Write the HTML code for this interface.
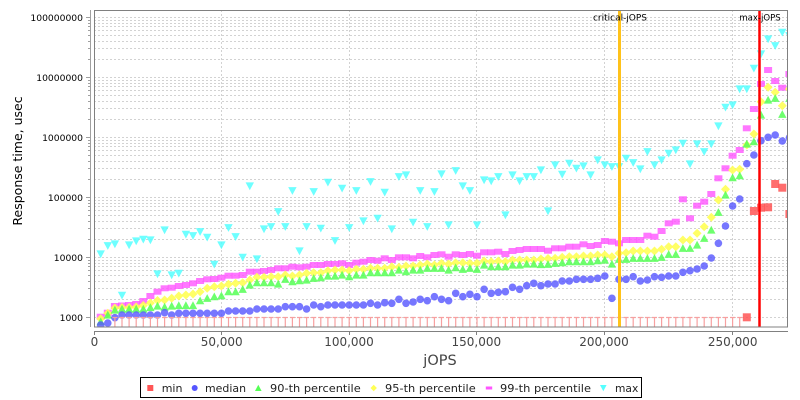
<!DOCTYPE html>
<html><head><meta charset="utf-8"><style>
html,body{margin:0;padding:0;background:#fff}
svg{display:block}
text{font-family:"DejaVu Sans","Liberation Sans",sans-serif}
</style></head><body>
<svg width="800" height="400" viewBox="0 0 800 400" xmlns="http://www.w3.org/2000/svg">
<defs>
<clipPath id="pc"><rect x="94" y="10" width="694" height="317"/></clipPath>
<rect id="mn" x="-4" y="-4" width="8" height="8" fill="#ff5555" fill-opacity="0.85"/>
<circle id="md" r="3.8" fill="#5555ff" fill-opacity="0.8"/>
<polygon id="p90" points="0,-4.2 4.2,3.6 -4.2,3.6" fill="#55ff55" fill-opacity="0.85"/>
<polygon id="p95" points="0,-4.5 4.5,0 0,4.5 -4.5,0" fill="#ffff55" fill-opacity="0.9"/>
<rect id="p99" x="-4" y="-3" width="8" height="6" fill="#ff55ff" fill-opacity="0.8"/>
<polygon id="mx" points="-4.2,-3.6 4.2,-3.6 0,4.2" fill="#55ffff" fill-opacity="0.85"/>
<path id="t" d="M-2.5,0H2.5M0,0V11" stroke="#f7a0a0" stroke-width="1.2" fill="none"/>
</defs>
<rect x="0" y="0" width="800" height="400" fill="#fff"/>
<rect x="94" y="10" width="694" height="317" fill="#fff"/>
<!-- horizontal grid -->
<path fill="none" stroke="#d2d2d2" stroke-width="1" stroke-dasharray="2,2" d="M94,17.5H788M94,77.5H788M94,137.5H788M94,197.5H788M94,257.5H788M94,317.5H788
M94,299.5H788M94,288.5H788M94,281.5H788M94,275.5H788M94,270.5H788M94,266.5H788M94,263.5H788M94,260.5H788
M94,239.5H788M94,228.5H788M94,221.5H788M94,215.5H788M94,210.5H788M94,206.5H788M94,203.5H788M94,200.5H788
M94,179.5H788M94,168.5H788M94,161.5H788M94,155.5H788M94,150.5H788M94,146.5H788M94,143.5H788M94,140.5H788
M94,119.5H788M94,108.5H788M94,101.5H788M94,95.5H788M94,90.5H788M94,86.5H788M94,83.5H788M94,80.5H788
M94,59.5H788M94,48.5H788M94,41.5H788M94,35.5H788M94,30.5H788M94,26.5H788M94,23.5H788M94,20.5H788"/>
<!-- vertical grid -->
<path fill="none" stroke="#d2d2d2" stroke-width="1" stroke-dasharray="2,2" d="M221.5,10V327M349.5,10V327M476.5,10V327M604.5,10V327M732.5,10V327"/>
<g clip-path="url(#pc)">
<!-- max -->
<use href="#mx" x="100.7" y="254"/><use href="#mx" x="107.8" y="245.7"/><use href="#mx" x="114.9" y="244"/><use href="#mx" x="122" y="295.3"/><use href="#mx" x="129.1" y="245"/><use href="#mx" x="136.2" y="241"/><use href="#mx" x="143.3" y="239.3"/><use href="#mx" x="150.4" y="240"/><use href="#mx" x="157.5" y="274"/><use href="#mx" x="164.6" y="230"/><use href="#mx" x="171.7" y="275"/><use href="#mx" x="178.8" y="273.3"/><use href="#mx" x="185.9" y="234.3"/><use href="#mx" x="193" y="235.7"/><use href="#mx" x="200.1" y="231.7"/><use href="#mx" x="207.2" y="237.3"/><use href="#mx" x="214.3" y="264.3"/><use href="#mx" x="221.4" y="245"/><use href="#mx" x="228.5" y="227.7"/><use href="#mx" x="235.6" y="236.7"/><use href="#mx" x="242.7" y="257.3"/><use href="#mx" x="249.8" y="186"/><use href="#mx" x="256.9" y="259"/><use href="#mx" x="264" y="229"/><use href="#mx" x="271.1" y="226.7"/><use href="#mx" x="278.2" y="211.7"/><use href="#mx" x="285.3" y="226.7"/><use href="#mx" x="292.4" y="190.7"/><use href="#mx" x="299.5" y="251"/><use href="#mx" x="306.6" y="226.7"/><use href="#mx" x="313.7" y="191.7"/><use href="#mx" x="320.8" y="228.3"/><use href="#mx" x="327.9" y="182.3"/><use href="#mx" x="335" y="240.7"/><use href="#mx" x="342.1" y="188.3"/><use href="#mx" x="349.2" y="227.7"/><use href="#mx" x="356.3" y="190.7"/><use href="#mx" x="363.4" y="221"/><use href="#mx" x="370.5" y="181.7"/><use href="#mx" x="377.6" y="218.3"/><use href="#mx" x="384.7" y="192.3"/><use href="#mx" x="391.8" y="229"/><use href="#mx" x="398.9" y="176.7"/><use href="#mx" x="406" y="175"/><use href="#mx" x="413.1" y="222.3"/><use href="#mx" x="420.2" y="190.7"/><use href="#mx" x="427.3" y="226.7"/><use href="#mx" x="434.4" y="191.7"/><use href="#mx" x="441.5" y="174"/><use href="#mx" x="448.6" y="225"/><use href="#mx" x="455.7" y="170.7"/><use href="#mx" x="462.8" y="186"/><use href="#mx" x="469.9" y="190.7"/><use href="#mx" x="477" y="225"/><use href="#mx" x="484.1" y="180"/><use href="#mx" x="491.2" y="181"/><use href="#mx" x="498.3" y="176.7"/><use href="#mx" x="505.4" y="215"/><use href="#mx" x="512.5" y="175"/><use href="#mx" x="519.6" y="181"/><use href="#mx" x="526.7" y="176.7"/><use href="#mx" x="533.8" y="176.7"/><use href="#mx" x="540.9" y="170"/><use href="#mx" x="548" y="211"/><use href="#mx" x="555.1" y="165"/><use href="#mx" x="562.2" y="174.3"/><use href="#mx" x="569.3" y="163.3"/><use href="#mx" x="576.4" y="168.3"/><use href="#mx" x="583.5" y="166"/><use href="#mx" x="590.6" y="175"/><use href="#mx" x="597.7" y="160"/><use href="#mx" x="604.8" y="165"/><use href="#mx" x="611.9" y="166.7"/><use href="#mx" x="619" y="166.7"/><use href="#mx" x="626.1" y="158.3"/><use href="#mx" x="633.2" y="162.7"/><use href="#mx" x="640.3" y="169"/><use href="#mx" x="647.4" y="151.7"/><use href="#mx" x="654.5" y="165"/><use href="#mx" x="661.6" y="160"/><use href="#mx" x="668.7" y="153.3"/><use href="#mx" x="675.8" y="150"/><use href="#mx" x="682.9" y="143.3"/><use href="#mx" x="690" y="164"/><use href="#mx" x="697.1" y="144"/><use href="#mx" x="704.2" y="151.7"/><use href="#mx" x="711.3" y="144"/><use href="#mx" x="718.4" y="126"/><use href="#mx" x="725.5" y="107.3"/><use href="#mx" x="732.6" y="105"/><use href="#mx" x="739.7" y="89"/><use href="#mx" x="746.8" y="89"/><use href="#mx" x="753.9" y="68.3"/><use href="#mx" x="761" y="54"/><use href="#mx" x="768.1" y="39"/><use href="#mx" x="775.2" y="45.7"/><use href="#mx" x="782.3" y="32.3"/><use href="#mx" x="789.4" y="35.7"/>
<!-- 99th -->
<use href="#p99" x="100.7" y="316.7"/><use href="#p99" x="107.8" y="312.7"/><use href="#p99" x="114.9" y="306"/><use href="#p99" x="122" y="305.5"/><use href="#p99" x="129.1" y="305"/><use href="#p99" x="136.2" y="304"/><use href="#p99" x="143.3" y="301"/><use href="#p99" x="150.4" y="296"/><use href="#p99" x="157.5" y="291.7"/><use href="#p99" x="164.6" y="288.3"/><use href="#p99" x="171.7" y="287.7"/><use href="#p99" x="178.8" y="286"/><use href="#p99" x="185.9" y="285"/><use href="#p99" x="193" y="283.3"/><use href="#p99" x="200.1" y="281"/><use href="#p99" x="207.2" y="279.3"/><use href="#p99" x="214.3" y="279"/><use href="#p99" x="221.4" y="277.7"/><use href="#p99" x="228.5" y="275.7"/><use href="#p99" x="235.6" y="275.7"/><use href="#p99" x="242.7" y="275"/><use href="#p99" x="249.8" y="271.7"/><use href="#p99" x="256.9" y="271.7"/><use href="#p99" x="264" y="271"/><use href="#p99" x="271.1" y="270"/><use href="#p99" x="278.2" y="268.3"/><use href="#p99" x="285.3" y="268.3"/><use href="#p99" x="292.4" y="266.7"/><use href="#p99" x="299.5" y="267.3"/><use href="#p99" x="306.6" y="266.7"/><use href="#p99" x="313.7" y="265"/><use href="#p99" x="320.8" y="265"/><use href="#p99" x="327.9" y="264"/><use href="#p99" x="335" y="264"/><use href="#p99" x="342.1" y="263.3"/><use href="#p99" x="349.2" y="265"/><use href="#p99" x="356.3" y="262.7"/><use href="#p99" x="363.4" y="261.7"/><use href="#p99" x="370.5" y="260"/><use href="#p99" x="377.6" y="260.7"/><use href="#p99" x="384.7" y="258.3"/><use href="#p99" x="391.8" y="260"/><use href="#p99" x="398.9" y="257.3"/><use href="#p99" x="406" y="257.3"/><use href="#p99" x="413.1" y="258.3"/><use href="#p99" x="420.2" y="256"/><use href="#p99" x="427.3" y="257.3"/><use href="#p99" x="434.4" y="255"/><use href="#p99" x="441.5" y="254.3"/><use href="#p99" x="448.6" y="256.7"/><use href="#p99" x="455.7" y="254.3"/><use href="#p99" x="462.8" y="255"/><use href="#p99" x="469.9" y="254"/><use href="#p99" x="477" y="255.7"/><use href="#p99" x="484.1" y="252.3"/><use href="#p99" x="491.2" y="252.3"/><use href="#p99" x="498.3" y="251.7"/><use href="#p99" x="505.4" y="254"/><use href="#p99" x="512.5" y="251"/><use href="#p99" x="519.6" y="250"/><use href="#p99" x="526.7" y="249"/><use href="#p99" x="533.8" y="249"/><use href="#p99" x="540.9" y="249"/><use href="#p99" x="548" y="250.7"/><use href="#p99" x="555.1" y="248.3"/><use href="#p99" x="562.2" y="248.3"/><use href="#p99" x="569.3" y="246.7"/><use href="#p99" x="576.4" y="246.7"/><use href="#p99" x="583.5" y="244.3"/><use href="#p99" x="590.6" y="246"/><use href="#p99" x="597.7" y="245"/><use href="#p99" x="604.8" y="241"/><use href="#p99" x="611.9" y="241.7"/><use href="#p99" x="619" y="243.3"/><use href="#p99" x="626.1" y="240"/><use href="#p99" x="633.2" y="240"/><use href="#p99" x="640.3" y="240"/><use href="#p99" x="647.4" y="235.7"/><use href="#p99" x="654.5" y="236.7"/><use href="#p99" x="661.6" y="231"/><use href="#p99" x="668.7" y="223.3"/><use href="#p99" x="675.8" y="221.7"/><use href="#p99" x="682.9" y="199.3"/><use href="#p99" x="690" y="218.3"/><use href="#p99" x="697.1" y="205.7"/><use href="#p99" x="704.2" y="201.7"/><use href="#p99" x="711.3" y="194"/><use href="#p99" x="718.4" y="178.3"/><use href="#p99" x="725.5" y="168.3"/><use href="#p99" x="732.6" y="155.7"/><use href="#p99" x="739.7" y="150"/><use href="#p99" x="746.8" y="128.3"/><use href="#p99" x="753.9" y="109"/><use href="#p99" x="761" y="84"/><use href="#p99" x="768.1" y="70"/><use href="#p99" x="775.2" y="81"/><use href="#p99" x="782.3" y="87.7"/><use href="#p99" x="789.4" y="74"/>
<!-- 95th -->
<use href="#p95" x="100.7" y="318.7"/><use href="#p95" x="107.8" y="313.3"/><use href="#p95" x="114.9" y="308"/><use href="#p95" x="122" y="307.5"/><use href="#p95" x="129.1" y="307.5"/><use href="#p95" x="136.2" y="307"/><use href="#p95" x="143.3" y="305.5"/><use href="#p95" x="150.4" y="303"/><use href="#p95" x="157.5" y="300.5"/><use href="#p95" x="164.6" y="300"/><use href="#p95" x="171.7" y="298.3"/><use href="#p95" x="178.8" y="296"/><use href="#p95" x="185.9" y="295"/><use href="#p95" x="193" y="294"/><use href="#p95" x="200.1" y="291.7"/><use href="#p95" x="207.2" y="288.3"/><use href="#p95" x="214.3" y="286.7"/><use href="#p95" x="221.4" y="286"/><use href="#p95" x="228.5" y="284.3"/><use href="#p95" x="235.6" y="283.3"/><use href="#p95" x="242.7" y="282.7"/><use href="#p95" x="249.8" y="280"/><use href="#p95" x="256.9" y="277.3"/><use href="#p95" x="264" y="277.3"/><use href="#p95" x="271.1" y="276.7"/><use href="#p95" x="278.2" y="276.7"/><use href="#p95" x="285.3" y="275"/><use href="#p95" x="292.4" y="276"/><use href="#p95" x="299.5" y="275"/><use href="#p95" x="306.6" y="273.3"/><use href="#p95" x="313.7" y="272.7"/><use href="#p95" x="320.8" y="272.7"/><use href="#p95" x="327.9" y="270.7"/><use href="#p95" x="335" y="270"/><use href="#p95" x="342.1" y="270"/><use href="#p95" x="349.2" y="270.7"/><use href="#p95" x="356.3" y="269.3"/><use href="#p95" x="363.4" y="269.3"/><use href="#p95" x="370.5" y="268.3"/><use href="#p95" x="377.6" y="268.3"/><use href="#p95" x="384.7" y="268.3"/><use href="#p95" x="391.8" y="266.7"/><use href="#p95" x="398.9" y="267.3"/><use href="#p95" x="406" y="266"/><use href="#p95" x="413.1" y="266"/><use href="#p95" x="420.2" y="265"/><use href="#p95" x="427.3" y="264"/><use href="#p95" x="434.4" y="265"/><use href="#p95" x="441.5" y="263.3"/><use href="#p95" x="448.6" y="264"/><use href="#p95" x="455.7" y="262.7"/><use href="#p95" x="462.8" y="262.7"/><use href="#p95" x="469.9" y="263.3"/><use href="#p95" x="477" y="263.3"/><use href="#p95" x="484.1" y="261"/><use href="#p95" x="491.2" y="261.7"/><use href="#p95" x="498.3" y="261"/><use href="#p95" x="505.4" y="261.7"/><use href="#p95" x="512.5" y="260"/><use href="#p95" x="519.6" y="260"/><use href="#p95" x="526.7" y="260"/><use href="#p95" x="533.8" y="260"/><use href="#p95" x="540.9" y="259"/><use href="#p95" x="548" y="258.5"/><use href="#p95" x="555.1" y="258.3"/><use href="#p95" x="562.2" y="257.3"/><use href="#p95" x="569.3" y="256.7"/><use href="#p95" x="576.4" y="256.7"/><use href="#p95" x="583.5" y="256"/><use href="#p95" x="590.6" y="256"/><use href="#p95" x="597.7" y="255"/><use href="#p95" x="604.8" y="255"/><use href="#p95" x="611.9" y="256.7"/><use href="#p95" x="619" y="253.3"/><use href="#p95" x="626.1" y="252.7"/><use href="#p95" x="633.2" y="251"/><use href="#p95" x="640.3" y="251"/><use href="#p95" x="647.4" y="251"/><use href="#p95" x="654.5" y="251"/><use href="#p95" x="661.6" y="249.3"/><use href="#p95" x="668.7" y="246.7"/><use href="#p95" x="675.8" y="246.7"/><use href="#p95" x="682.9" y="240"/><use href="#p95" x="690" y="240"/><use href="#p95" x="697.1" y="233.3"/><use href="#p95" x="704.2" y="226.7"/><use href="#p95" x="711.3" y="217.3"/><use href="#p95" x="718.4" y="200"/><use href="#p95" x="725.5" y="189.3"/><use href="#p95" x="732.6" y="170"/><use href="#p95" x="739.7" y="169.3"/><use href="#p95" x="746.8" y="145"/><use href="#p95" x="753.9" y="134"/><use href="#p95" x="761" y="101.7"/><use href="#p95" x="768.1" y="87.3"/><use href="#p95" x="775.2" y="92.3"/><use href="#p95" x="782.3" y="105.7"/><use href="#p95" x="789.4" y="89"/>
<!-- 90th -->
<use href="#p90" x="100.7" y="321.7"/><use href="#p90" x="107.8" y="315"/><use href="#p90" x="114.9" y="310"/><use href="#p90" x="122" y="309"/><use href="#p90" x="129.1" y="309"/><use href="#p90" x="136.2" y="309"/><use href="#p90" x="143.3" y="309"/><use href="#p90" x="150.4" y="307.5"/><use href="#p90" x="157.5" y="306"/><use href="#p90" x="164.6" y="307"/><use href="#p90" x="171.7" y="306"/><use href="#p90" x="178.8" y="305.5"/><use href="#p90" x="185.9" y="305.5"/><use href="#p90" x="193" y="305.5"/><use href="#p90" x="200.1" y="300.7"/><use href="#p90" x="207.2" y="298.3"/><use href="#p90" x="214.3" y="296.7"/><use href="#p90" x="221.4" y="295.7"/><use href="#p90" x="228.5" y="291.7"/><use href="#p90" x="235.6" y="291.7"/><use href="#p90" x="242.7" y="289.3"/><use href="#p90" x="249.8" y="285"/><use href="#p90" x="256.9" y="282.7"/><use href="#p90" x="264" y="282.7"/><use href="#p90" x="271.1" y="282.7"/><use href="#p90" x="278.2" y="284"/><use href="#p90" x="285.3" y="279.3"/><use href="#p90" x="292.4" y="281.7"/><use href="#p90" x="299.5" y="280.7"/><use href="#p90" x="306.6" y="280"/><use href="#p90" x="313.7" y="278.3"/><use href="#p90" x="320.8" y="277.7"/><use href="#p90" x="327.9" y="276"/><use href="#p90" x="335" y="276"/><use href="#p90" x="342.1" y="275"/><use href="#p90" x="349.2" y="276.7"/><use href="#p90" x="356.3" y="275"/><use href="#p90" x="363.4" y="275"/><use href="#p90" x="370.5" y="272.7"/><use href="#p90" x="377.6" y="272.7"/><use href="#p90" x="384.7" y="272.7"/><use href="#p90" x="391.8" y="272.7"/><use href="#p90" x="398.9" y="270"/><use href="#p90" x="406" y="271.7"/><use href="#p90" x="413.1" y="270"/><use href="#p90" x="420.2" y="270"/><use href="#p90" x="427.3" y="268.3"/><use href="#p90" x="434.4" y="268.3"/><use href="#p90" x="441.5" y="268.3"/><use href="#p90" x="448.6" y="270"/><use href="#p90" x="455.7" y="267.7"/><use href="#p90" x="462.8" y="269.3"/><use href="#p90" x="469.9" y="268.3"/><use href="#p90" x="477" y="269.3"/><use href="#p90" x="484.1" y="265"/><use href="#p90" x="491.2" y="266.7"/><use href="#p90" x="498.3" y="266.7"/><use href="#p90" x="505.4" y="266.7"/><use href="#p90" x="512.5" y="265"/><use href="#p90" x="519.6" y="265"/><use href="#p90" x="526.7" y="264"/><use href="#p90" x="533.8" y="264"/><use href="#p90" x="540.9" y="264.5"/><use href="#p90" x="548" y="264.3"/><use href="#p90" x="555.1" y="263.3"/><use href="#p90" x="562.2" y="262.7"/><use href="#p90" x="569.3" y="261.7"/><use href="#p90" x="576.4" y="261.7"/><use href="#p90" x="583.5" y="261.7"/><use href="#p90" x="590.6" y="261.7"/><use href="#p90" x="597.7" y="260.7"/><use href="#p90" x="604.8" y="260"/><use href="#p90" x="611.9" y="264"/><use href="#p90" x="619" y="259.3"/><use href="#p90" x="626.1" y="259.3"/><use href="#p90" x="633.2" y="258.3"/><use href="#p90" x="640.3" y="258.3"/><use href="#p90" x="647.4" y="258.3"/><use href="#p90" x="654.5" y="258.3"/><use href="#p90" x="661.6" y="257.3"/><use href="#p90" x="668.7" y="254.3"/><use href="#p90" x="675.8" y="254.3"/><use href="#p90" x="682.9" y="248.3"/><use href="#p90" x="690" y="248.3"/><use href="#p90" x="697.1" y="245"/><use href="#p90" x="704.2" y="238.3"/><use href="#p90" x="711.3" y="230"/><use href="#p90" x="718.4" y="212.3"/><use href="#p90" x="725.5" y="195"/><use href="#p90" x="732.6" y="177.7"/><use href="#p90" x="739.7" y="175.7"/><use href="#p90" x="746.8" y="144"/><use href="#p90" x="753.9" y="141.7"/><use href="#p90" x="761" y="115"/><use href="#p90" x="768.1" y="100"/><use href="#p90" x="775.2" y="98.3"/><use href="#p90" x="782.3" y="114.3"/><use href="#p90" x="789.4" y="98.3"/>
<!-- median -->
<use href="#md" x="100.7" y="325"/><use href="#md" x="107.8" y="323"/><use href="#md" x="114.9" y="317.7"/><use href="#md" x="122" y="315"/><use href="#md" x="129.1" y="315"/><use href="#md" x="136.2" y="315"/><use href="#md" x="143.3" y="315"/><use href="#md" x="150.4" y="315"/><use href="#md" x="157.5" y="315"/><use href="#md" x="164.6" y="312.7"/><use href="#md" x="171.7" y="315"/><use href="#md" x="178.8" y="313.3"/><use href="#md" x="185.9" y="313.3"/><use href="#md" x="193" y="313.3"/><use href="#md" x="200.1" y="313.3"/><use href="#md" x="207.2" y="313.3"/><use href="#md" x="214.3" y="313.3"/><use href="#md" x="221.4" y="313.3"/><use href="#md" x="228.5" y="311"/><use href="#md" x="235.6" y="311"/><use href="#md" x="242.7" y="311"/><use href="#md" x="249.8" y="311"/><use href="#md" x="256.9" y="309"/><use href="#md" x="264" y="309"/><use href="#md" x="271.1" y="309"/><use href="#md" x="278.2" y="309"/><use href="#md" x="285.3" y="306.7"/><use href="#md" x="292.4" y="306.7"/><use href="#md" x="299.5" y="306.7"/><use href="#md" x="306.6" y="309"/><use href="#md" x="313.7" y="305"/><use href="#md" x="320.8" y="306.7"/><use href="#md" x="327.9" y="305"/><use href="#md" x="335" y="305"/><use href="#md" x="342.1" y="305"/><use href="#md" x="349.2" y="305"/><use href="#md" x="356.3" y="305"/><use href="#md" x="363.4" y="305"/><use href="#md" x="370.5" y="303.3"/><use href="#md" x="377.6" y="305"/><use href="#md" x="384.7" y="302.7"/><use href="#md" x="391.8" y="303.3"/><use href="#md" x="398.9" y="299.3"/><use href="#md" x="406" y="303.3"/><use href="#md" x="413.1" y="302"/><use href="#md" x="420.2" y="299.3"/><use href="#md" x="427.3" y="300.7"/><use href="#md" x="434.4" y="296.7"/><use href="#md" x="441.5" y="299.3"/><use href="#md" x="448.6" y="300.7"/><use href="#md" x="455.7" y="293.3"/><use href="#md" x="462.8" y="296.7"/><use href="#md" x="469.9" y="294.3"/><use href="#md" x="477" y="296.7"/><use href="#md" x="484.1" y="289.3"/><use href="#md" x="491.2" y="293.3"/><use href="#md" x="498.3" y="292.3"/><use href="#md" x="505.4" y="291.7"/><use href="#md" x="512.5" y="287.3"/><use href="#md" x="519.6" y="289.3"/><use href="#md" x="526.7" y="285.7"/><use href="#md" x="533.8" y="283.3"/><use href="#md" x="540.9" y="285.7"/><use href="#md" x="548" y="284"/><use href="#md" x="555.1" y="284"/><use href="#md" x="562.2" y="281"/><use href="#md" x="569.3" y="281"/><use href="#md" x="576.4" y="279.3"/><use href="#md" x="583.5" y="279.3"/><use href="#md" x="590.6" y="279.3"/><use href="#md" x="597.7" y="278.3"/><use href="#md" x="604.8" y="276"/><use href="#md" x="611.9" y="298.3"/><use href="#md" x="619" y="279.3"/><use href="#md" x="626.1" y="279.3"/><use href="#md" x="633.2" y="276.7"/><use href="#md" x="640.3" y="281"/><use href="#md" x="647.4" y="280"/><use href="#md" x="654.5" y="276.7"/><use href="#md" x="661.6" y="277.3"/><use href="#md" x="668.7" y="276"/><use href="#md" x="675.8" y="276"/><use href="#md" x="682.9" y="272.3"/><use href="#md" x="690" y="270.7"/><use href="#md" x="697.1" y="269"/><use href="#md" x="704.2" y="266"/><use href="#md" x="711.3" y="258"/><use href="#md" x="718.4" y="243.3"/><use href="#md" x="725.5" y="226"/><use href="#md" x="732.6" y="206"/><use href="#md" x="739.7" y="199"/><use href="#md" x="746.8" y="163.7"/><use href="#md" x="753.9" y="155"/><use href="#md" x="761" y="140.7"/><use href="#md" x="768.1" y="137.3"/><use href="#md" x="775.2" y="135"/><use href="#md" x="782.3" y="141"/><use href="#md" x="789.4" y="137.7"/>
<!-- min (T marks) -->
<use href="#t" x="114.9" y="317.5"/><use href="#t" x="122" y="317.5"/><use href="#t" x="129.1" y="317.5"/><use href="#t" x="136.2" y="317.5"/><use href="#t" x="143.3" y="317.5"/><use href="#t" x="150.4" y="317.5"/><use href="#t" x="157.5" y="317.5"/><use href="#t" x="164.6" y="317.5"/><use href="#t" x="171.7" y="317.5"/><use href="#t" x="178.8" y="317.5"/><use href="#t" x="185.9" y="317.5"/><use href="#t" x="193" y="317.5"/><use href="#t" x="200.1" y="317.5"/><use href="#t" x="207.2" y="317.5"/><use href="#t" x="214.3" y="317.5"/><use href="#t" x="221.4" y="317.5"/><use href="#t" x="228.5" y="317.5"/><use href="#t" x="235.6" y="317.5"/><use href="#t" x="242.7" y="317.5"/><use href="#t" x="249.8" y="317.5"/><use href="#t" x="256.9" y="317.5"/><use href="#t" x="264" y="317.5"/><use href="#t" x="271.1" y="317.5"/><use href="#t" x="278.2" y="317.5"/><use href="#t" x="285.3" y="317.5"/><use href="#t" x="292.4" y="317.5"/><use href="#t" x="299.5" y="317.5"/><use href="#t" x="306.6" y="317.5"/><use href="#t" x="313.7" y="317.5"/><use href="#t" x="320.8" y="317.5"/><use href="#t" x="327.9" y="317.5"/><use href="#t" x="335" y="317.5"/><use href="#t" x="342.1" y="317.5"/><use href="#t" x="349.2" y="317.5"/><use href="#t" x="356.3" y="317.5"/><use href="#t" x="363.4" y="317.5"/><use href="#t" x="370.5" y="317.5"/><use href="#t" x="377.6" y="317.5"/><use href="#t" x="384.7" y="317.5"/><use href="#t" x="391.8" y="317.5"/><use href="#t" x="398.9" y="317.5"/><use href="#t" x="406" y="317.5"/><use href="#t" x="413.1" y="317.5"/><use href="#t" x="420.2" y="317.5"/><use href="#t" x="427.3" y="317.5"/><use href="#t" x="434.4" y="317.5"/><use href="#t" x="441.5" y="317.5"/><use href="#t" x="448.6" y="317.5"/><use href="#t" x="455.7" y="317.5"/><use href="#t" x="462.8" y="317.5"/><use href="#t" x="469.9" y="317.5"/><use href="#t" x="477" y="317.5"/><use href="#t" x="484.1" y="317.5"/><use href="#t" x="491.2" y="317.5"/><use href="#t" x="498.3" y="317.5"/><use href="#t" x="505.4" y="317.5"/><use href="#t" x="512.5" y="317.5"/><use href="#t" x="519.6" y="317.5"/><use href="#t" x="526.7" y="317.5"/><use href="#t" x="533.8" y="317.5"/><use href="#t" x="540.9" y="317.5"/><use href="#t" x="548" y="317.5"/><use href="#t" x="555.1" y="317.5"/><use href="#t" x="562.2" y="317.5"/><use href="#t" x="569.3" y="317.5"/><use href="#t" x="576.4" y="317.5"/><use href="#t" x="583.5" y="317.5"/><use href="#t" x="590.6" y="317.5"/><use href="#t" x="597.7" y="317.5"/><use href="#t" x="604.8" y="317.5"/><use href="#t" x="611.9" y="317.5"/><use href="#t" x="619" y="317.5"/><use href="#t" x="626.1" y="317.5"/><use href="#t" x="633.2" y="317.5"/><use href="#t" x="640.3" y="317.5"/><use href="#t" x="647.4" y="317.5"/><use href="#t" x="654.5" y="317.5"/><use href="#t" x="661.6" y="317.5"/><use href="#t" x="668.7" y="317.5"/><use href="#t" x="675.8" y="317.5"/><use href="#t" x="682.9" y="317.5"/><use href="#t" x="690" y="317.5"/><use href="#t" x="697.1" y="317.5"/><use href="#t" x="704.2" y="317.5"/><use href="#t" x="711.3" y="317.5"/><use href="#t" x="718.4" y="317.5"/><use href="#t" x="725.5" y="317.5"/><use href="#t" x="732.6" y="317.5"/><use href="#t" x="739.7" y="317.5"/>
<!-- min squares -->
<use href="#mn" x="746.8" y="317.3"/><use href="#mn" x="753.9" y="211"/><use href="#mn" x="761" y="207.7"/><use href="#mn" x="768.1" y="207.3"/><use href="#mn" x="775.2" y="184"/><use href="#mn" x="782.3" y="187.7"/><use href="#mn" x="789.4" y="214"/>
<!-- markers -->
<line x1="619.5" y1="10" x2="619.5" y2="327" stroke="#ffc21a" stroke-width="3"/>
<line x1="759.5" y1="10" x2="759.5" y2="327" stroke="#ff0000" stroke-width="2.5"/>
</g>
<text x="620" y="20.5" font-size="9" text-anchor="middle" textLength="54" lengthAdjust="spacingAndGlyphs" fill="#000">critical-jOPS</text>
<text x="760" y="20.5" font-size="9" text-anchor="middle" textLength="41.5" lengthAdjust="spacingAndGlyphs" fill="#000">max-jOPS</text>
<!-- plot outline -->
<rect x="94.5" y="10.5" width="693" height="316.5" fill="none" stroke="#808080" stroke-width="1"/>
<!-- y axis -->
<line x1="90.5" y1="10" x2="90.5" y2="327" stroke="#a0a0a0" stroke-width="1"/>
<path fill="none" stroke="#a0a0a0" stroke-width="1" d="M86,17.5H90M86,77.5H90M86,137.5H90M86,197.5H90M86,257.5H90M86,317.5H90
M88,299.5H90M88,288.5H90M88,281.5H90M88,275.5H90M88,270.5H90M88,266.5H90M88,263.5H90M88,260.5H90
M88,239.5H90M88,228.5H90M88,221.5H90M88,215.5H90M88,210.5H90M88,206.5H90M88,203.5H90M88,200.5H90
M88,179.5H90M88,168.5H90M88,161.5H90M88,155.5H90M88,150.5H90M88,146.5H90M88,143.5H90M88,140.5H90
M88,119.5H90M88,108.5H90M88,101.5H90M88,95.5H90M88,90.5H90M88,86.5H90M88,83.5H90M88,80.5H90
M88,59.5H90M88,48.5H90M88,41.5H90M88,35.5H90M88,30.5H90M88,26.5H90M88,23.5H90M88,20.5H90"/>
<g font-size="9.2" fill="#000" text-anchor="end">
<text x="83" y="20.8">100000000</text>
<text x="83" y="80.8">10000000</text>
<text x="83" y="140.8">1000000</text>
<text x="83" y="200.8">100000</text>
<text x="83" y="260.8">10000</text>
<text x="83" y="320.8">1000</text>
</g>
<text transform="translate(22,161) rotate(-90)" font-size="12.5" text-anchor="middle" fill="#000">Response time, usec</text>
<!-- x axis -->
<line x1="94" y1="331.5" x2="788" y2="331.5" stroke="#808080" stroke-width="1"/>
<path fill="none" stroke="#808080" stroke-width="1" d="M94.5,331V335M221.5,331V335M349.5,331V335M476.5,331V335M604.5,331V335M732.5,331V335"/>
<g font-size="12" fill="#444" text-anchor="middle">
<text x="94.5" y="346">0</text>
<text x="221.7" y="346">50,000</text>
<text x="349" y="346">100,000</text>
<text x="476.3" y="346">150,000</text>
<text x="604" y="346">200,000</text>
<text x="732.7" y="346">250,000</text>
</g>
<text x="440" y="365" font-size="14.5" text-anchor="middle" fill="#444">jOPS</text>
<!-- legend -->
<rect x="140.5" y="377.5" width="501" height="20" fill="#fff" stroke="#000" stroke-width="1"/>
<rect x="147.3" y="385" width="6" height="6" fill="#ff5555"/>
<circle cx="194.7" cy="388" r="3" fill="#5555ff"/>
<polygon points="258.3,384.7 261.6,391 255,391" fill="#55ff55"/>
<polygon points="373.7,384.8 376.9,388 373.7,391.2 370.5,388" fill="#ffff55"/>
<rect x="485.8" y="386.5" width="6.4" height="3" fill="#ff55ff"/>
<polygon points="600,385 606.6,385 603.3,391.3" fill="#55ffff"/>
<g font-size="11" fill="#222">
<text x="161.7" y="392">min</text>
<text x="205" y="392" textLength="41" lengthAdjust="spacingAndGlyphs">median</text>
<text x="270" y="392" textLength="90.7" lengthAdjust="spacingAndGlyphs">90-th percentile</text>
<text x="385" y="392" textLength="90.7" lengthAdjust="spacingAndGlyphs">95-th percentile</text>
<text x="500" y="392" textLength="91" lengthAdjust="spacingAndGlyphs">99-th percentile</text>
<text x="615" y="392" textLength="23.3" lengthAdjust="spacingAndGlyphs">max</text>
</g>
</svg>
</body></html>
